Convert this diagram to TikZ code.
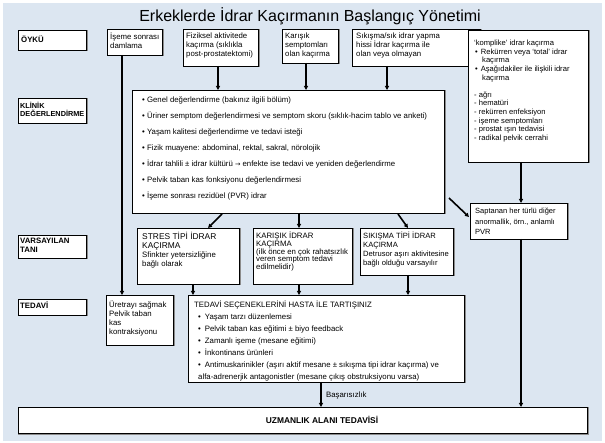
\documentclass[tikz,border=0pt]{standalone}
\usepackage{fontspec}
\setmainfont{Liberation Sans}
\newfontfamily\dvfont{DejaVu Sans}
\usetikzlibrary{arrows.meta,calc}
\definecolor{bgblue}{HTML}{DCE6F1}
\definecolor{shade}{HTML}{8C8C8C}
\tikzset{
  box/.style={draw=black, line width=0.9pt, fill=white, anchor=north west, inner sep=0pt, outer sep=0pt,
    preaction={draw=shade, line width=1.2pt, transform canvas={shift={(0.9pt,-0.9pt)}}}},
  txt/.style={anchor=north west, inner sep=0pt, align=left, font=\fontsize{7.8}{9}\selectfont},
  lbl/.style={anchor=north west, inner sep=0pt, align=left, font=\fontsize{7.8}{9}\selectfont\bfseries},
  arr/.style={line width=1.6pt, -{Triangle[length=4pt,width=4pt]}, shorten >=0pt},
}
\begin{document}
\begin{tikzpicture}[x=1pt,y=-1pt]
\useasboundingbox (0,0) rectangle (605,443);
\fill[white] (0,0) rectangle (605,443);
\fill[bgblue] (3,3) rectangle (602,441);

\node[anchor=center, inner sep=0pt, font=\fontsize{16}{18}\selectfont] (title) at (310,16) {Erkeklerde İdrar Kaçırmanın Başlangıç Yönetimi};

% left labels
\node[box, minimum width=68pt, minimum height=20pt] (oyku) at (18,30) {};
\node[lbl] (oykut) at (21,36) {ÖYKÜ};
\node[box, minimum width=68pt, minimum height=25pt] (klin) at (18,98) {};
\node[lbl, font=\fontsize{7.3}{8.5}\selectfont\bfseries] (klint) at (20,102) {KLİNİK\\DEĞERLENDİRME};
\node[box, minimum width=68pt, minimum height=23pt] (vars) at (18,235) {};
\node[lbl] (varst) at (20,238) {VARSAYILAN\\TANI};
\node[box, minimum width=68pt, minimum height=16pt] (ted) at (18,299) {};
\node[lbl] (tedt) at (20,302) {TEDAVİ};

% top row
\node[box, minimum width=55pt, minimum height=26pt] (ise) at (107,29) {};
\node[txt] (iset) at (110,33) {İşeme sonrası\\damlama};
\node[box, minimum width=75pt, minimum height=37pt] (fiz) at (183,29) {};
\node[txt] (fizt) at (186,33) {Fiziksel aktivitede\\kaçırma (sıklıkla\\post-prostatektomi)};
\node[box, minimum width=56pt, minimum height=34pt] (kar) at (282,29) {};
\node[txt] (kart) at (285,33) {Karışık\\semptomları\\olan kaçırma};
\node[box, minimum width=128pt, minimum height=37pt] (sik) at (352,29) {};
\node[txt] (sikt) at (356,33) {Sıkışma/sık idrar yapma\\hissi İdrar kaçırma ile\\olan veya olmayan};
\node[box, minimum width=120pt, minimum height=132pt] (komp) at (468,30) {};
\node[txt, font=\fontsize{7.6}{8.6}\selectfont] (kompt) at (474,40) {‘komplike’ idrar kaçırma\\
\hspace*{1pt}•\hspace{3pt}Rekürren veya ‘total’ idrar\\
\hspace*{8pt}kaçırma\\
\hspace*{1pt}•\hspace{3pt}Aşağıdakiler ile ilişkili idrar\\
\hspace*{8pt}kaçırma\\[8.6pt]
- ağrı\\- hematüri\\- rekürren enfeksiyon\\- işeme semptomları\\- prostat ışın tedavisi\\- radikal pelvik cerrahi};

% clinical box
\node[box, minimum width=312pt, minimum height=123pt] (clin) at (132,90) {};
\node[txt, font=\fontsize{7.8}{16}\selectfont] (clint) at (142,97) {• Genel değerlendirme (bakınız ilgili bölüm)\\
• Üriner semptom değerlendirmesi ve semptom skoru (sıklık-hacim tablo ve anketi)\\
• Yaşam kalitesi değerlendirme ve tedavi isteği\\
• Fizik muayene: abdominal, rektal, sakral, nörolojik\\
• İdrar tahlili ± idrar kültürü {\dvfont\fontsize{6.5}{16}\selectfont →} enfekte ise tedavi ve yeniden değerlendirme\\
• Pelvik taban kas fonksiyonu değerlendirmesi\\
• İşeme sonrası rezidüel (PVR) idrar};

% saptanan
\node[box, minimum width=97pt, minimum height=36pt] (sap) at (470,203) {};
\node[txt, font=\fontsize{7.5}{10.5}\selectfont] (sapt) at (475,208) {Saptanan her türlü diğer\\anormallik, örn., anlamlı\\PVR};

% diagnoses
\node[box, minimum width=102pt, minimum height=56pt] (stres) at (137,228) {};
\node[txt, font=\fontsize{8.4}{9}\selectfont] (strest) at (142,232) {STRES TİPİ İDRAR\\KAÇIRMA\\{\fontsize{7.8}{9}\selectfont Sfinkter yetersizliğine}\\{\fontsize{7.8}{9}\selectfont bağlı olarak}};
\node[box, minimum width=99pt, minimum height=56pt] (karis) at (253,228) {};
\node[txt, font=\fontsize{7.8}{7.6}\selectfont] (karist) at (256,232) {KARIŞIK İDRAR\\KAÇIRMA\\(ilk önce en çok rahatsızlık\\veren semptom tedavi\\edilmelidir)};
\node[box, minimum width=93pt, minimum height=47pt] (sikis) at (360,228) {};
\node[txt, font=\fontsize{7.6}{9}\selectfont] (sikist) at (363,232) {SIKIŞMA TİPİ İDRAR\\KAÇIRMA\\Detrusor aşırı aktivitesine\\bağlı olduğu varsayılır};

% treatment
\node[box, minimum width=67pt, minimum height=50pt] (uret) at (106,295) {};
\node[txt] (urett) at (109,301) {Üretrayı sağmak\\Pelvik taban\\kas\\kontraksiyonu};
\node[box, minimum width=276pt, minimum height=87pt] (tsec) at (188,295) {};
\node[txt, font=\fontsize{7.8}{12}\selectfont] (tsect) at (194,301) {TEDAVİ SEÇENEKLERİNİ HASTA İLE TARTIŞINIZ\\
\hspace*{4pt}•\hspace{4pt}Yaşam tarzı düzenlemesi\\
\hspace*{4pt}•\hspace{4pt}Pelvik taban kas eğitimi ± biyo feedback\\
\hspace*{4pt}•\hspace{4pt}Zamanlı işeme (mesane eğitimi)\\
\hspace*{4pt}•\hspace{4pt}İnkontinans ürünleri\\
\hspace*{4pt}•\hspace{4pt}Antimuskarinikler (aşırı aktif mesane ± sıkışma tipi idrar kaçırma) ve\\
\hspace*{4pt}alfa-adrenerjik antagonistler (mesane çıkış obstruksiyonu varsa)};

\node[box, minimum width=569pt, minimum height=26pt] (uzm) at (18,407) {};
\node[anchor=center, inner sep=0pt, font=\fontsize{8.4}{9}\selectfont\bfseries] (uzmt) at (322,420) {UZMANLIK ALANI TEDAVİSİ};

\node[anchor=west, inner sep=0pt, font=\fontsize{7.8}{9}\selectfont] (basa) at (326,396) {Başarısızlık};

% connectors
\draw[arr] (ise.south -| 122,0) -- (uret.north -| 122,0);
\draw[arr] (fiz.south -| 218,0) -- (clin.north -| 218,0);
\draw[arr] (kar.south -| 306,0) -- (clin.north -| 306,0);
\draw[arr] (sik.south -| 387,0) -- (clin.north -| 387,0);
\draw[arr] (komp.south -| 521,0) -- (sap.north -| 521,0);
\coordinate (d1a) at (449,198);
\coordinate (d1b) at (469,217);
\draw[arr] (d1a) -- (d1b);
\coordinate (d2a) at (222,214);
\coordinate (d2b) at (208,228);
\draw[arr] (d2a) -- (d2b);
\draw[arr] (clin.south -| 299,0) -- (karis.north -| 299,0);
\coordinate (d3a) at (398,214);
\coordinate (d3b) at (408,228);
\draw[arr] (d3a) -- (d3b);
\draw[arr] (stres.south -| 193,0) -- (tsec.north -| 193,0);
\draw[arr] (karis.south -| 299,0) -- (tsec.north -| 299,0);
\draw[arr] (sikis.south -| 408,0) -- (tsec.north -| 408,0);
\draw[arr] (sap.south -| 521,0) -- (uzm.north -| 521,0);
\draw[arr] (tsec.south -| 321,0) -- (uzm.north -| 321,0);
\end{tikzpicture}
\end{document}
